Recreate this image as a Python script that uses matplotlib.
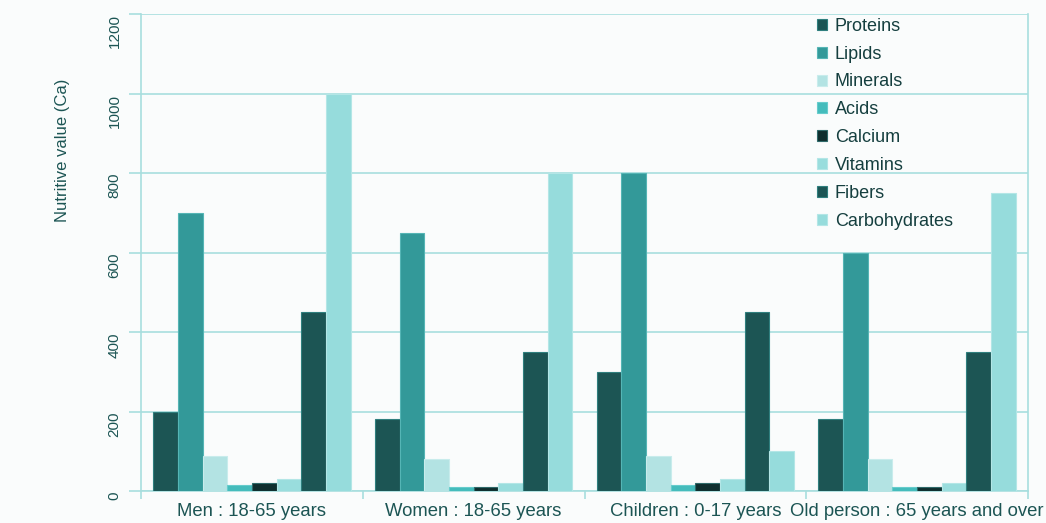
import matplotlib
matplotlib.use("Agg")
import matplotlib.pyplot as plt
import numpy as np

plt.rcParams['font.family'] = ['Liberation Sans', 'DejaVu Sans']

categories = ["Men : 18-65 years", "Women : 18-65 years", "Children : 0-17 years", "Old person : 65 years and over"]
series_names = ["Proteins", "Lipids", "Minerals", "Acids", "Calcium", "Vitamins", "Fibers", "Carbohydrates"]
proteins = [200, 180, 300, 180]
lipids = [700, 650, 800, 600]
minerals = [88, 80, 88, 80]
acids = [15, 10, 15, 10]
calcium = [20, 10, 20, 10]
vitamins = [30, 20, 30, 20]
fibers = [450, 350, 450, 350]
carbohydrates = [1000, 800, 100, 750]
yticks = [0, 200, 400, 600, 800, 1000, 1200]

values = [proteins, lipids, minerals, acids, calcium, vitamins, fibers, carbohydrates]
colors = ["#1c5554", "#339999", "#b3e3e3", "#44bcbc", "#0f2e2e", "#99dddd", "#1c5554", "#96dcdc"]
edges = ["#2f7f7e", "#55b5b5", "#c8ecec", "#66cccc", "#2f6a6a", "#b3e6e6", "#2f7f7e", "#b3e6e6"]

bg = "#fafcfc"
grid_c = "#a8dede"
txt_c = "#1c5554"

fig = plt.figure(figsize=(10.46, 5.23), dpi=100, facecolor=bg)
ax = fig.add_axes([141/1046, 1 - 491/523, (1028-141)/1046, (491-14)/523])
ax.set_facecolor(bg)

n = len(series_names)
group_w = 0.89
bw = group_w / n
x = np.arange(len(categories))
for i, (name, vals) in enumerate(zip(series_names, values)):
    off = -group_w/2 + bw*(i + 0.5)
    ax.bar(x + off, vals, width=bw, color=colors[i], edgecolor=edges[i], linewidth=0.8,
           label=name, zorder=3)

ax.set_xlim(-0.5, len(categories) - 0.5)
ax.set_ylim(0, 1200)
ax.set_yticks(yticks)
ax.set_yticklabels([str(t) for t in yticks], rotation=90, va='top', fontsize=11, color=txt_c)
ax.yaxis.grid(True, color=grid_c, linewidth=1.2, zorder=0)
ax.set_axisbelow(True)

ax.set_xticks(x)
ax.set_xticklabels(categories, fontsize=13.3, color=txt_c)
ax.tick_params(axis='x', length=0, pad=9)
ax.set_xticks(np.arange(len(categories) + 1) - 0.5, minor=True)
ax.tick_params(axis='x', which='minor', length=6, color=grid_c, width=1.2)
ax.tick_params(axis='y', length=9, color=grid_c, width=1.2, pad=5)

for s in ['left', 'right']:
    ax.spines[s].set_color(grid_c)
    ax.spines[s].set_linewidth(1.2)
ax.spines['top'].set_visible(False)
ax.spines['bottom'].set_color(grid_c)
ax.spines['bottom'].set_linewidth(1.2)

ax.set_ylabel("Nutritive value (Ca)", fontsize=12, color=txt_c, labelpad=27, y=0.715)

leg = ax.legend(loc='upper left', bbox_to_anchor=(0.762, 0.992), frameon=False, fontsize=13,
                handlelength=0.55, handleheight=0.55, labelspacing=0.6, handletextpad=0.45,
                borderaxespad=0.0, borderpad=0.0)
for t in leg.get_texts():
    t.set_color("#153f3f")
leg.set_zorder(5)

fig.savefig("out.png", dpi=100, facecolor=bg)
